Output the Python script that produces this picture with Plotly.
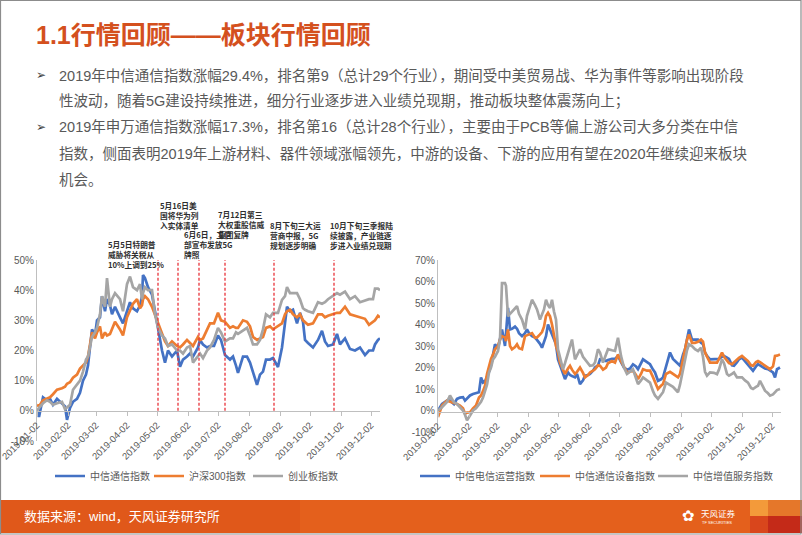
import plotly.graph_objects as go
import pandas as pd

W, H = 802, 535
BASE = "2019-01-02"
END = "2019-12-11"

# ---------------- data: left chart (cumulative change, %) ----------------
left_days = [0, 2, 6, 10, 13, 16, 20, 25, 28, 30, 33, 36, 40, 43, 46, 49, 51, 55, 58, 60,
             63, 65, 68, 70, 73, 75, 78, 83, 86, 90, 93, 96, 100, 103, 105, 106, 108, 111, 115, 118,
             121, 125, 128, 131, 135, 140, 143, 146, 150, 153, 156, 161, 163, 166, 170, 173, 177, 181, 184, 188,
             193, 196, 199, 201, 206, 210, 213, 216, 220, 223, 226, 229, 233, 236, 241, 245, 248, 250, 253, 256,
             260, 263, 266, 268, 271, 276, 281, 285, 288, 291, 296, 300, 303, 308, 313, 318, 323, 328, 332, 336,
             338, 341, 343]
citic_telecom = [0, -2, 4.5, 3.5, 4, 2, 4, 2.5, 1.5, -3, 1, 3, 4, 6, 10, 12, 15, 27, 25, 30,
                 31, 38, 33, 37, 35, 32, 34.5, 31, 29, 33, 36, 34, 33, 35, 38, 45, 44, 41, 38.5, 33,
                 27, 20, 16, 20, 18, 20, 14.6, 17, 18, 19, 18, 21, 23.5, 22, 21, 21.5, 21.5, 25, 23.5, 18.5,
                 17, 18, 15, 12.6, 18, 18, 16, 12.6, 8.6, 12, 13, 17, 17, 17.5, 14.5, 21, 29.5, 34.5, 33, 33.5,
                 29, 32.5, 29.5, 23.5, 22.5, 21, 23.5, 26.5, 23, 21.5, 22, 25.5, 22, 24, 20.5, 20, 21, 18.5, 20, 20,
                 22, 23.5, 24]
hs300 = [2, 1.5, 3.5, 4, 4.5, 5.5, 7, 7.5, 8, 9, 9.5, 11, 12, 14, 15, 16, 18, 26, 24, 26,
         28, 24, 26, 25, 25.5, 27, 29.5, 27, 25, 31, 33, 35.5, 37, 34, 35, 37, 38, 37, 34.5, 32,
         29, 25.5, 23, 21.5, 23, 21.5, 21, 22, 23.5, 22.5, 21.5, 24.5, 23.5, 24, 27, 29, 29, 32.5, 30, 29.5,
         27.5, 28, 27.5, 27.5, 30, 29.5, 28, 24.5, 23.5, 24, 24.5, 27.5, 28, 27, 28, 29, 32, 33, 33.5, 32,
         31, 32, 30, 29.5, 28.5, 29, 32, 32, 31, 31.5, 32, 32.5, 32.5, 34.5, 32, 31.5, 31, 30.5, 28.5, 29.5,
         30, 31.5, 31]
chinext = [0, 1, 2.5, 3.5, 3, 2, 2.5, 3, 0.5, 1, 2, 7, 8.5, 10, 13, 17, 18, 24.5, 26, 27.5,
           32, 38, 34.5, 44, 34.5, 37, 39, 37, 33, 42, 44.5, 41, 40, 42, 37, 39, 41, 40, 40, 32,
           27.5, 25, 24, 21.5, 22, 20, 20, 19, 21, 21.5, 16, 18, 19, 17.5, 20, 21, 23.5, 27.5, 26, 23,
           24, 24, 26, 25.5, 26.5, 27.5, 25, 22, 22, 23.5, 27, 32, 31, 32.5, 32.5, 36.8, 38, 41, 39, 39,
           39, 37, 34, 33.5, 33, 32.5, 36, 35.5, 36, 37, 38, 39, 38.5, 39.5, 37, 38, 36, 36.5, 37, 37,
           40.5, 40.5, 40]

# ---------------- data: right chart (cumulative change, %) ----------------
right_days = [0, 4, 9, 12, 16, 19, 22, 25, 27, 29, 32, 35, 38, 41, 43, 45, 47, 49, 51, 53,
              55, 57, 60, 62, 64, 67, 68, 70, 72, 74, 77, 79, 81, 84, 87, 89, 91, 94, 97, 99,
              102, 104, 106, 108, 110, 112, 114, 116, 118, 120, 122, 125, 127, 130, 132, 134, 137, 139, 142, 145,
              147, 150, 152, 155, 157, 160, 162, 165, 168, 170, 174, 177, 180, 183, 186, 189, 192, 195, 198, 200,
              203, 205, 209, 212, 215, 217, 220, 223, 225, 228, 232, 235, 237, 240, 242, 245, 247, 249, 251, 254,
              257, 260, 263, 265, 267, 269, 272, 276, 279, 281, 284, 286, 289, 291, 294, 296, 299, 301, 304, 307,
              310, 313, 315, 318, 320, 322, 325, 327, 330, 332, 335, 337, 339, 342]
citic_operators = [0, 3, 4.6, 4.6, 3, 5.4, 6, 6.2, 4.6, 5.5, 7, 7.7, 8, 8.5, 15.4, 13, 13.5, 15.4, 18, 21,
                   26, 30.8, 29, 33, 37.7, 30, 35, 47.7, 37.7, 38, 39, 38, 36, 34.6, 36, 37.7, 36, 34.6, 34, 33,
                   31, 29.2, 32, 34.6, 40, 37.5, 36, 33, 30.8, 23.8, 21, 17, 14.6, 17.7, 16.5, 16, 15.4, 17, 12.3, 14,
                   16.2, 16.5, 17, 18.5, 20, 21, 23.8, 23.5, 23, 23.5, 24, 24, 25.4, 22.5, 20, 19, 19.5, 21.5, 20.5, 19.2,
                   22, 23.8, 22.5, 21.5, 19, 17.7, 13.8, 14.5, 15.4, 20.8, 27, 24, 23, 21.5, 20.8, 26, 28.5, 33, 37.7, 33,
                   33, 33, 31.5, 30.8, 27, 25.4, 23.8, 23.8, 23.8, 24, 25, 25.4, 24.6, 24, 21, 20.8, 22.5, 23.8, 24.6, 23,
                   21.5, 20, 18.5, 20.5, 21.5, 21, 20, 19.5, 19.2, 18.5, 17.7, 15.4, 19.2, 20]
citic_equipment = [-3, 2.3, 4.6, 4, 3.5, 3, 2.3, 1, -1.5, -1, -0.8, 1, 2.3, 6, 7, 9, 11.5, 17, 21, 24,
                   26, 28.5, 30, 33, 34.6, 34, 32.3, 37.7, 30, 28.5, 29.5, 30.8, 29, 28.5, 34.6, 35, 35.5, 36, 33.8, 34,
                   35.4, 36.5, 39, 44, 45.4, 43.8, 40, 34.6, 30, 27, 22.3, 19, 17, 19.5, 20.8, 19, 17, 18, 20, 17.5,
                   15.4, 16.5, 17.7, 18.5, 19.2, 21, 20.8, 19, 20, 22, 23, 22.3, 26, 23, 20.5, 17.7, 18, 18.5, 16.5, 14.6,
                   17, 19.2, 18.5, 18.5, 15.5, 13, 10, 11.5, 12.3, 17, 18, 17, 16.5, 15.4, 17, 23.8, 28, 33, 35.4, 31.5,
                   31.5, 32, 33, 32, 27, 25, 22.3, 22.3, 22.3, 24, 27, 25, 23, 22, 21.5, 22.5, 23.8, 24.5, 25.4, 24,
                   23, 21, 20.8, 22.5, 23, 22.5, 21.5, 20.5, 19.5, 19.2, 20.5, 25.4, 25.5, 26]
citic_vas = [0, 1.5, 4, 7, 3.8, 3, 1.5, 0, -2, -4.6, -2.3, 0, 1, 3, 4, 6, 9.2, 12, 17.7, 20,
             23.8, 25, 27.7, 33, 59.2, 59.2, 58, 43.8, 45, 46, 47, 48.5, 45, 42.3, 37.7, 44, 47, 51.5, 49, 47,
             42.3, 45, 47, 51.5, 49, 47.7, 51.5, 46, 42.3, 28.5, 25, 19.2, 22, 27, 30, 33, 23.8, 26, 28.5, 25,
             23.8, 22, 20.8, 21, 22.3, 28.5, 27, 22.3, 26, 28.5, 28, 27.7, 33.8, 25.4, 20, 17, 18, 19.2, 15, 12.3,
             14, 15.4, 14, 13, 9, 7, 5.4, 7.5, 8.5, 13, 12, 11, 10, 8.5, 12, 19.2, 24, 28, 30.8, 30,
             28.5, 27.7, 29.2, 25, 18, 16.2, 17.7, 17.5, 16.9, 19, 23.8, 22, 17, 16.2, 17, 17.7, 15.4, 15.5, 15.4, 14,
             13, 10.5, 10, 11, 11.5, 13.8, 11, 9.2, 8, 6.9, 7.5, 8.5, 9.5, 10]

left_names = ["中信通信指数", "沪深300指数", "创业板指数"]
right_names = ["中信电信运营指数", "中信通信设备指数", "中信增值服务指数"]
colors = ["#4472C4", "#ED7D31", "#A5A5A5"]

left_yticks = [-10, 0, 10, 20, 30, 40, 50]
right_yticks = [-10, 0, 10, 20, 30, 40, 50, 60, 70]

event_dates = ["2019-05-03", "2019-05-23", "2019-06-13", "2019-07-09", "2019-08-27", "2019-10-26"]
event_texts = [
    "5月5日特朗普<br>威胁将关税从<br>10%上调到25%",
    "5月16日美<br>国将华为列<br>入实体清单",
    "6月6日，工信<br>部宣布发放5G<br>牌照",
    "7月12日第三<br>大权重股信威<br>集团复牌",
    "8月下旬三大运<br>营商中报，5G<br>规划逐步明确",
    "10月下旬三季报陆<br>续披露，产业链逐<br>步进入业绩兑现期",
]
event_text_px = [(106, 255), (158, 216), (182, 245), (216, 224), (268, 236), (328, 236)]
event_line_top = [53, 53, 53, 53, 51.5, 51.5]

title = "1.1行情回顾——板块行情回顾"
bullet_lines = [
    ("2019年中信通信指数涨幅29.4%，排名第9（总计29个行业），期间受中美贸易战、华为事件等影响出现阶段", True),
    ("性波动，随着5G建设持续推进，细分行业逐步进入业绩兑现期，推动板块整体震荡向上；", False),
    ("2019年申万通信指数涨幅17.3%，排名第16（总计28个行业），主要由于PCB等偏上游公司大多分类在中信", True),
    ("指数，侧面表明2019年上游材料、器件领域涨幅领先，中游的设备、下游的应用有望在2020年继续迎来板块", False),
    ("机会。", False),
]
source_text = "数据来源：wind，天风证券研究所"

# ---------------- helpers ----------------
def fx(px):
    return px / W

def fy(py):
    return 1 - py / H

def to_dates(days):
    return pd.Timestamp(BASE) + pd.to_timedelta(days, unit="D")

FONT = "Liberation Sans, Noto Sans CJK SC, sans-serif"
GREY_TXT = "#595959"
AXIS_C = "#BFBFBF"

fig = go.Figure()

for name, vals, c in zip(left_names, [citic_telecom, hs300, chinext], colors):
    fig.add_trace(go.Scatter(x=to_dates(left_days), y=vals, name=name, mode="lines",
                             line=dict(color=c, width=2.7), xaxis="x", yaxis="y",
                             legend="legend"))
right_legends = ["legend2", "legend3", "legend4"]
for name, vals, c, lg in zip(right_names, [citic_operators, citic_equipment, citic_vas], colors, right_legends):
    fig.add_trace(go.Scatter(x=to_dates(right_days), y=vals, name=name, mode="lines",
                             line=dict(color=c, width=2.7), xaxis="x2", yaxis="y2",
                             legend=lg))

xcommon = dict(type="date", range=[BASE, END], tick0=BASE, dtick="M1", tickformat="%Y-%m-%d",
               tickangle=-45, tickfont=dict(size=9.5, color=GREY_TXT, family=FONT),
               showline=True, linecolor=AXIS_C, linewidth=1, ticks="outside", ticklen=4,
               tickcolor=AXIS_C, showgrid=False, zeroline=False, anchor="free", automargin=False,
               ticklabeloverflow="allow")
ycommon = dict(showline=True, linecolor=AXIS_C, linewidth=1, ticks="", showgrid=False,
               zeroline=False, automargin=False,
               tickfont=dict(size=10, color=GREY_TXT, family=FONT))
legcommon = dict(orientation="h", y=fy(476), xanchor="left", yanchor="middle",
                 font=dict(size=10, color=GREY_TXT, family=FONT), bgcolor="rgba(0,0,0,0)",
                 itemwidth=30, tracegroupgap=0)

fig.update_layout(
    width=W, height=H, margin=dict(l=0, r=0, t=0, b=0, pad=0, autoexpand=False),
    paper_bgcolor="white", plot_bgcolor="white",
    font=dict(family=FONT, color=GREY_TXT),
    xaxis=dict(**xcommon, domain=[fx(37), fx(380)], position=fy(411)),
    yaxis=dict(**ycommon, domain=[fy(441), fy(260)], range=[-10, 50], anchor="x",
               tickvals=left_yticks, ticktext=[f"{v}%" for v in left_yticks]),
    xaxis2=dict(**xcommon, domain=[fx(438), fx(781)], position=fy(411.7)),
    yaxis2=dict(**ycommon, domain=[fy(432), fy(260)], range=[-10, 70], anchor="x2",
                tickvals=right_yticks, ticktext=[f"{v}%" for v in right_yticks]),
    legend=dict(**legcommon, x=fx(50), entrywidth=54),
    legend2=dict(**legcommon, x=fx(415), entrywidth=90),
    legend3=dict(**legcommon, x=fx(535), entrywidth=90),
    legend4=dict(**legcommon, x=fx(653), entrywidth=90),
    showlegend=True,
)

shapes = []
# event lines
for d, top in zip(event_dates, event_line_top):
    shapes.append(dict(type="line", xref="x", yref="y", x0=d, x1=d, y0=0, y1=top,
                       line=dict(color="#E8333A", width=1.3, dash="3px,2px")))
# footer band
shapes.append(dict(type="rect", xref="paper", yref="paper", x0=0, x1=1, y0=fy(533), y1=fy(500),
                   fillcolor="#E4601C", line=dict(width=0), layer="below"))
shapes.append(dict(type="rect", xref="paper", yref="paper", x0=fx(0), x1=fx(300), y0=fy(533), y1=fy(500),
                   fillcolor="#DE5419", line=dict(width=0), layer="below", opacity=0.6))
shapes.append(dict(type="rect", xref="paper", yref="paper", x0=fx(750), x1=fx(768), y0=fy(516), y1=fy(500),
                   fillcolor="#F39A3A", line=dict(width=0)))
shapes.append(dict(type="rect", xref="paper", yref="paper", x0=fx(768), x1=fx(802), y0=fy(516), y1=fy(500),
                   fillcolor="#E5772A", line=dict(width=0)))
shapes.append(dict(type="rect", xref="paper", yref="paper", x0=fx(750), x1=fx(768), y0=fy(533), y1=fy(516),
                   fillcolor="#D9461C", line=dict(width=0)))
shapes.append(dict(type="rect", xref="paper", yref="paper", x0=fx(768), x1=fx(802), y0=fy(533), y1=fy(516),
                   fillcolor="#C42A18", line=dict(width=0)))
# page border
shapes.append(dict(type="rect", xref="paper", yref="paper", x0=fx(0.5), x1=fx(801), y0=fy(534), y1=fy(0.5),
                   line=dict(color="#8C8C8C", width=1.2), fillcolor="rgba(0,0,0,0)"))
fig.update_layout(shapes=shapes)

ann = []
ann.append(dict(text=title, x=fx(34), y=fy(35), xref="paper", yref="paper", xanchor="left",
                yanchor="middle", showarrow=False,
                font=dict(size=25, color="#D4501E", family=FONT, weight="bold")))
line_y = [75, 101, 127, 153, 180]
for (txt, bullet), py in zip(bullet_lines, line_y):
    ann.append(dict(text=txt, x=fx(57), y=fy(py), xref="paper", yref="paper", xanchor="left",
                    yanchor="middle", showarrow=False,
                    font=dict(size=14.5, color=GREY_TXT, family=FONT)))
    if bullet:
        ann.append(dict(text="➢", x=fx(34), y=fy(py), xref="paper", yref="paper", xanchor="left",
                        yanchor="middle", showarrow=False,
                        font=dict(size=12, color="#404040", family="DejaVu Sans")))
for txt, (px, py) in zip(event_texts, event_text_px):
    ann.append(dict(text=txt, x=fx(px), y=fy(py), xref="paper", yref="paper", xanchor="left",
                    yanchor="middle", align="left", showarrow=False,
                    font=dict(size=7.7, color="#2E2E2E", family="Noto Sans CJK SC", weight="bold")))
ann.append(dict(text=source_text, x=fx(22), y=fy(516), xref="paper", yref="paper", xanchor="left",
                yanchor="middle", showarrow=False, font=dict(size=13, color="white", family=FONT)))
ann.append(dict(text="✿", x=fx(688), y=fy(516), xref="paper", yref="paper", xanchor="center",
                yanchor="middle", showarrow=False, font=dict(size=15, color="white", family="DejaVu Sans")))
ann.append(dict(text="天风证券", x=fx(699), y=fy(513), xref="paper", yref="paper", xanchor="left",
                yanchor="middle", showarrow=False, font=dict(size=8.5, color="white", family="Noto Sans CJK SC")))
ann.append(dict(text="TF SECURITIES", x=fx(700), y=fy(522), xref="paper", yref="paper", xanchor="left",
                yanchor="middle", showarrow=False, font=dict(size=4, color="white", family=FONT)))
fig.update_layout(annotations=ann)

fig.write_html("out.html", config={"displayModeBar": False},
               post_script="document.body.style.margin='0';document.body.style.overflow='hidden';")
